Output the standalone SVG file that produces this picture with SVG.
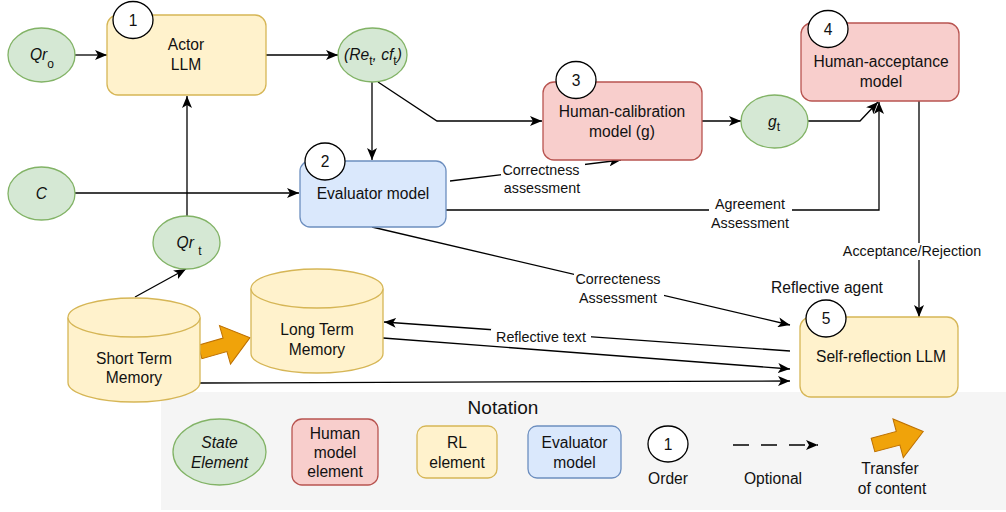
<svg xmlns="http://www.w3.org/2000/svg" width="1006" height="512" viewBox="0 0 1006 512">
<style>
text{font-family:"Liberation Sans",Arial,Helvetica,sans-serif;fill:#111;}
.n{font-size:15.6px;text-anchor:middle;}
.e{font-size:14.3px;text-anchor:middle;}
.i{font-style:italic;}
.sub{font-size:12px;font-style:normal;}
.st{fill:#d5e8d4;stroke:#82b366;stroke-width:1.3;}
.hm{fill:#f8cecc;stroke:#b85450;stroke-width:1.3;}
.rl{fill:#fff2cc;stroke:#d6b656;stroke-width:1.3;}
.ev{fill:#dae8fc;stroke:#6c8ebf;stroke-width:1.3;}
.ord{fill:#fff;stroke:#000;stroke-width:1.3;}
.big{fill:#f0a30a;stroke:#bd7000;stroke-width:1;}
.c{fill:none;stroke:#000;stroke-width:1.3;}
.lb{fill:#fff;stroke:none;}
</style>
<defs>
<marker id="a" viewBox="0 0 12 10" refX="12" refY="5" markerWidth="12" markerHeight="10" markerUnits="userSpaceOnUse" orient="auto">
<path d="M0,0 L12,5 L0,10 L3,5 z" fill="#000"/>
</marker>
<path id="fat" d="M0,-7 L26,-7 L26,-20 L52,0 L26,20 L26,7 L0,7 z"/>
</defs>

<g id="notation-bg">
<rect x="161" y="392" width="845" height="118" fill="#f5f5f5"/>
</g>

<g id="connectors">
<path class="c" d="M75,55 L107,55" marker-end="url(#a)"/>
<path class="c" d="M266,55 L338,55" marker-end="url(#a)"/>
<path class="c" d="M372,82 L372,160" marker-end="url(#a)"/>
<path class="c" d="M378,82 L437,121 L542,121" marker-end="url(#a)"/>
<path class="c" d="M702,121 L741,121" marker-end="url(#a)"/>
<path class="c" d="M808,121 L860,121 L878,102" marker-end="url(#a)"/>
<path class="c" d="M75,193 L299,193" marker-end="url(#a)"/>
<path class="c" d="M187,216 L187,96" marker-end="url(#a)"/>
<path class="c" d="M135,297 L186,269" marker-end="url(#a)"/>
<path class="c" d="M450,181 L621,160" marker-end="url(#a)"/>
<path class="c" d="M446,210 L879,210 L879,102" marker-end="url(#a)"/>
<path class="c" d="M919,101 L919,317" marker-end="url(#a)"/>
<path class="c" d="M372,227 L790,325" marker-end="url(#a)"/>
<path class="c" d="M790,351 L384,322" marker-end="url(#a)"/>
<path class="c" d="M383,338 L790,369" marker-end="url(#a)"/>
<path class="c" d="M200,383 L790,381" marker-end="url(#a)"/>
<rect class="lb" x="501" y="162" width="84" height="33"/>
<text class="e" x="541" y="175">Correctness</text>
<text class="e" x="542" y="193">assessment</text>
<rect class="lb" x="709" y="196" width="83" height="35"/>
<text class="e" x="750" y="209">Agreement</text>
<text class="e" x="750" y="228">Assessment</text>
<rect class="lb" x="842" y="243" width="142" height="17"/>
<text class="e" x="912" y="256">Acceptance/Rejection</text>
<rect class="lb" x="574" y="271" width="90" height="35"/>
<text class="e" x="618" y="284">Correcteness</text>
<text class="e" x="618" y="303">Assessment</text>
<rect class="lb" x="491" y="329" width="100" height="16"/>
<text class="e" x="541" y="342">Reflective text</text>
</g>

<g id="qr0">
<ellipse class="st" cx="41.5" cy="55" rx="33.5" ry="27"/>
<text class="n i" x="42" y="60">Qr<tspan class="sub" dy="8">o</tspan></text>
</g>

<g id="actor">
<rect class="rl" x="107" y="15" width="159" height="80" rx="11"/>
<text class="n" x="186" y="50">Actor</text>
<text class="n" x="186" y="70">LLM</text>
<ellipse class="ord" cx="133" cy="20" rx="20" ry="18.5"/>
<text class="n" x="133" y="25.5">1</text>
</g>

<g id="re-cf">
<ellipse class="st" cx="372.5" cy="55" rx="34.5" ry="27"/>
<text class="n i" x="373" y="60">(Re<tspan class="sub" dy="5">t</tspan><tspan dy="-5">, cf</tspan><tspan class="sub" dy="5">t</tspan><tspan dy="-5">)</tspan></text>
</g>

<g id="human-calibration">
<rect class="hm" x="543" y="82" width="159" height="78" rx="11"/>
<text class="n" x="622" y="117">Human-calibration</text>
<text class="n" x="622" y="137">model (g)</text>
<ellipse class="ord" cx="576" cy="80" rx="20" ry="18.5"/>
<text class="n" x="576" y="85.5">3</text>
</g>

<g id="gt">
<ellipse class="st" cx="774.5" cy="121.5" rx="33.5" ry="26.5"/>
<text class="n i" x="774" y="127">g<tspan class="sub" dy="4">t</tspan></text>
</g>

<g id="human-acceptance">
<rect class="hm" x="801" y="23" width="158" height="78" rx="11"/>
<text class="n" x="881" y="67">Human-acceptance</text>
<text class="n" x="881" y="87">model</text>
<ellipse class="ord" cx="828" cy="29" rx="20" ry="18.5"/>
<text class="n" x="828" y="34.5">4</text>
</g>

<g id="c">
<ellipse class="st" cx="41.5" cy="193.5" rx="33.5" ry="26.5"/>
<text class="n i" x="41.5" y="199">C</text>
</g>

<g id="evaluator">
<rect class="ev" x="300" y="161" width="146" height="66" rx="10"/>
<text class="n" x="373" y="198.5">Evaluator model</text>
<ellipse class="ord" cx="325" cy="161.5" rx="20" ry="18.5"/>
<text class="n" x="325" y="167">2</text>
</g>

<g id="qrt">
<ellipse class="st" cx="186.5" cy="242.5" rx="33.5" ry="26.5"/>
<text class="n i" x="189" y="247.5">Qr <tspan class="sub" dy="7">t</tspan></text>
</g>

<g id="transfer-arrow">
<use href="#fat" class="big" transform="translate(200,352) rotate(-16)"/>
</g>

<g id="short-term-memory">
<path class="rl" d="M68,317.5 A66,19.5 0 0 1 200,317.5 L200,382.5 A66,19.5 0 0 1 68,382.5 Z"/>
<path class="rl" d="M68,317.5 A66,19.5 0 0 0 200,317.5" fill="none"/>
<text class="n" x="134" y="363.5">Short Term</text>
<text class="n" x="134" y="382.5">Memory</text>
</g>

<g id="long-term-memory">
<path class="rl" d="M251,288.5 A66,19.5 0 0 1 383,288.5 L383,353.5 A66,19.5 0 0 1 251,353.5 Z"/>
<path class="rl" d="M251,288.5 A66,19.5 0 0 0 383,288.5" fill="none"/>
<text class="n" x="317" y="334.5">Long Term</text>
<text class="n" x="317" y="354.5">Memory</text>
</g>

<g id="self-reflection">
<text class="n" x="827" y="292.5">Reflective agent</text>
<rect class="rl" x="800" y="317" width="158" height="80" rx="11"/>
<text class="n" x="881" y="361.5">Self-reflection LLM</text>
<ellipse class="ord" cx="826" cy="318.5" rx="20" ry="18.5"/>
<text class="n" x="826" y="324">5</text>
</g>

<g id="notation">
<text x="503" y="414" style="font-size:19px;text-anchor:middle">Notation</text>
<ellipse class="st" cx="219.5" cy="452" rx="46.5" ry="33"/>
<text class="n i" x="219.5" y="447.5">State</text>
<text class="n i" x="219.5" y="467.5">Element</text>
<rect class="hm" x="292" y="419" width="86" height="66" rx="10"/>
<text class="n" x="335" y="438.5">Human</text>
<text class="n" x="335" y="457.5">model</text>
<text class="n" x="335" y="476.5">element</text>
<rect class="rl" x="417" y="426" width="80" height="52" rx="9"/>
<text class="n" x="457" y="447.5">RL</text>
<text class="n" x="457" y="467.5">element</text>
<rect class="ev" x="528" y="426" width="93" height="52" rx="9"/>
<text class="n" x="574.5" y="447.5">Evaluator</text>
<text class="n" x="574.5" y="467.5">model</text>
<ellipse class="ord" cx="668" cy="444" rx="20" ry="18"/>
<text class="n" x="668" y="449.5">1</text>
<text class="n" x="668" y="483.5">Order</text>
<path class="c" d="M733,445 L818,445" stroke-dasharray="16 12" marker-end="url(#a)"/>
<text class="n" x="773" y="483.5">Optional</text>
<use href="#fat" class="big" transform="translate(873,445) rotate(-15)"/>
<text class="n" x="890" y="473.5">Transfer</text>
<text class="n" x="892" y="493.5">of content</text>
</g>
</svg>
